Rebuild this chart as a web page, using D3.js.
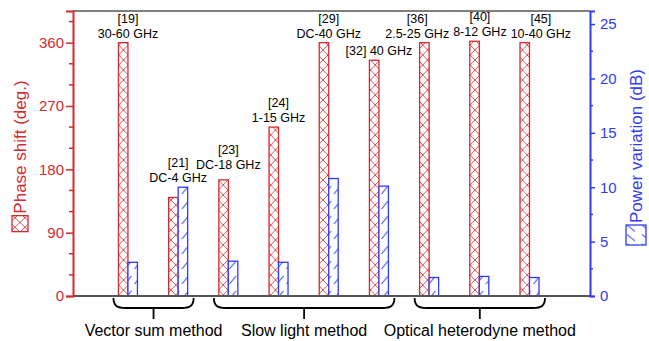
<html>

<head>
    <style>
        body { margin: 0; background: white; }
        text { font-family: "Liberation Sans", Arial, sans-serif; }
    </style>
</head>

<body>
    <svg id="chart"></svg>
</body>
<script src="https://cdn.jsdelivr.net/npm/d3@7"></script>
<script>
    let width = 649,
        height = 341;

    // data
    let refs = ["[19]", "[21]", "[23]", "[24]", "[29]", "[32]", "[36]", "[40]", "[45]"]
    let freqs = ["30-60 GHz", "DC-4 GHz", "DC-18 GHz", "1-15 GHz", "DC-40 GHz", "40 GHz", "2.5-25 GHz", "8-12 GHz", "10-40 GHz"]
    let phase = [360, 140, 165, 240, 360, 335, 360, 362, 360]
    let power = [3.1, 10.0, 3.2, 3.1, 10.8, 10.1, 1.7, 1.8, 1.7]
    let methodNames = ["Vector sum method", "Slow light method", "Optical heterodyne method"]
    let methodFirst = [0, 2, 6]
    let methodLast = [1, 5, 8]
    let phaseTicks = [0, 90, 180, 270, 360]
    let powerTicks = [0, 5, 10, 15, 20, 25]

    let red = "#d42a2e",
        blue = "#2f3cf5"

    let margin = { top: 11, left: 73, right: 59, bottom: 45 }
    let x0 = margin.left, x1 = width - margin.right
    let yBase = height - margin.bottom

    let svg = d3.select("#chart").attr("width", width).attr("height", height)

    let x = d3.scalePoint().domain(d3.range(refs.length)).range([x0, x1]).padding(1.15).align(0.476)
    let yL = d3.scaleLinear().domain([0, 405]).range([yBase, margin.top])
    let yR = d3.scaleLinear().domain([0, 26.2]).range([yBase, margin.top])
    let bw = 9.5

    // patterns
    let defs = svg.append("defs")
    let pr = defs.append("pattern").attr("id", "hatchRed").attr("patternUnits", "userSpaceOnUse")
        .attr("width", bw).attr("height", 10)
    pr.append("rect").attr("width", bw).attr("height", 10).attr("fill", "white")
    pr.append("path").attr("d", `M0,0 Q${bw / 2},5 ${bw},10 M${bw},0 Q${bw / 2},5 0,10`)
        .attr("stroke", red).attr("stroke-width", 0.8).attr("fill", "none")
    let pb = defs.append("pattern").attr("id", "hatchBlue").attr("patternUnits", "userSpaceOnUse")
        .attr("width", bw).attr("height", 15)
    pb.append("rect").attr("width", bw).attr("height", 15).attr("fill", "white")
    pb.append("path").attr("d", `M1.5,14 L${bw - 1.5},6`)
        .attr("stroke", blue).attr("stroke-width", 1).attr("fill", "none")

    // top frame line
    svg.append("line").attr("x1", x0).attr("x2", x1).attr("y1", margin.top).attr("y2", margin.top)
        .attr("stroke", "black").attr("stroke-width", 1.2)

    // bars
    let groups = svg.append("g").selectAll("g").data(refs).enter().append("g")
    groups.append("rect")
        .attr("x", (d, i) => x(i) - bw)
        .attr("y", (d, i) => yL(phase[i]))
        .attr("width", bw)
        .attr("height", (d, i) => yBase - yL(phase[i]))
        .attr("fill", "url(#hatchRed)").attr("stroke", red).attr("stroke-width", 1.3)
    groups.append("rect")
        .attr("x", (d, i) => x(i))
        .attr("y", (d, i) => yR(power[i]))
        .attr("width", bw)
        .attr("height", (d, i) => yBase - yR(power[i]))
        .attr("fill", "url(#hatchBlue)").attr("stroke", blue).attr("stroke-width", 1.3)

    // bar labels
    let labels = []
    groups.each(function (d, i) {
        let top = Math.min(yL(phase[i]), yR(power[i]))
        let g = d3.select(this).append("g")
        let lines = freqs[i] == "40 GHz" ? [d + " " + freqs[i]] : [d, freqs[i]]
        let info = lines.map((s, k) => {
            let base = top - 5 - 15 * (lines.length - 1 - k)
            let t = g.append("text").attr("y", base).attr("text-anchor", "middle").attr("font-size", 12.5).text(s)
            return { base: base, w: t.node().getComputedTextLength() }
        })
        labels.push({ g: g, cx: x(i), dy: 0, lines: info })
    })

    function boxes(l) {
        return l.lines.map(o => ({ x0: l.cx - o.w / 2, x1: l.cx + o.w / 2, y0: o.base + l.dy - 10, y1: o.base + l.dy + 3 }))
    }
    function overlap(a, b, gap) {
        let worst = 0
        boxes(a).forEach(p => boxes(b).forEach(q => {
            if (p.y1 < q.y0 || q.y1 < p.y0) return
            let o = Math.min(p.x1 + gap - q.x0, q.x1 + gap - p.x0)
            if (o > worst) worst = o
        }))
        return worst
    }
    // lift a label a little if it hits the previous one
    labels.forEach((l, i) => {
        if (i == 0) return
        for (let r = 0; r <= 12; r++) {
            l.dy = -r
            if (boxes(l)[0].y0 < margin.top + 3) { l.dy = 0; break }
            if (overlap(labels[i - 1], l, 4) <= 0) break
            if (r == 12) l.dy = 0
        }
    })
    // then push apart sideways what still collides
    for (let it = 0; it < 20; it++) {
        for (let i = 0; i < labels.length - 1; i++) {
            let o = overlap(labels[i], labels[i + 1], 4)
            if (o > 0) { labels[i].cx -= o / 2; labels[i + 1].cx += o / 2 }
        }
    }
    labels.forEach(l => l.g.attr("transform", `translate(${l.cx},${l.dy})`))

    // baseline
    svg.append("line").attr("x1", x0).attr("x2", x1).attr("y1", yBase).attr("y2", yBase)
        .attr("stroke", "#555").attr("stroke-width", 2)

    // left axis
    let left = svg.append("g").attr("transform", `translate(${x0},0)`)
        .call(d3.axisLeft(yL).tickValues(phaseTicks).tickSize(7).tickPadding(2))
    left.select(".domain").attr("stroke", red).attr("stroke-width", 2)
    left.selectAll(".tick line").attr("stroke", red).attr("stroke-width", 1.5)
    left.selectAll("text").attr("fill", red).attr("font-size", 15).attr("font-family", "Liberation Sans, Arial, sans-serif")
    left.append("g").selectAll("line").data(d3.range(30, 405, 30).filter(v => v % 90 != 0)).enter()
        .append("line").attr("x1", -4).attr("x2", 0).attr("y1", d => yL(d)).attr("y2", d => yL(d))
        .attr("stroke", red).attr("stroke-width", 1.5)

    // right axis
    let right = svg.append("g").attr("transform", `translate(${x1},0)`)
        .call(d3.axisRight(yR).tickValues(powerTicks).tickSize(5).tickPadding(5))
    right.select(".domain").attr("stroke", blue).attr("stroke-width", 2)
    right.selectAll(".tick line").attr("stroke", blue).attr("stroke-width", 1.5)
    right.selectAll("text").attr("fill", blue).attr("font-size", 15).attr("font-family", "Liberation Sans, Arial, sans-serif")
    right.append("g").selectAll("line").data(d3.range(2.5, 26, 5)).enter()
        .append("line").attr("x1", 0).attr("x2", 3).attr("y1", d => yR(d)).attr("y2", d => yR(d))
        .attr("stroke", blue).attr("stroke-width", 1.5)

    // axis titles with legend icons
    function axisTitle(cx, cy, label, color, fillId, icon) {
        let g = svg.append("g").attr("transform", `translate(${cx},${cy}) rotate(-90)`)
        let t = g.append("text").attr("font-size", 17).attr("fill", color).attr("dy", "0.35em").text(label)
        let len = t.node().getComputedTextLength()
        let total = icon + 2 + len
        g.append("rect").attr("x", -total / 2).attr("y", -icon / 2).attr("width", icon).attr("height", icon)
            .attr("fill", `url(#${fillId})`).attr("stroke", color).attr("stroke-width", 1.3)
        t.attr("x", -total / 2 + icon + 2)
    }
    axisTitle(20, 156, "Phase shift (deg.)", red, "hatchRed", 16)
    axisTitle(636, 157, "Power variation (dB)", blue, "hatchBlue", 20)

    // method braces
    let braces = svg.append("g")
    methodNames.forEach((name, k) => {
        let a = x(methodFirst[k]) - bw - 5,
            b = x(methodLast[k]) + bw + 6,
            c = (a + b) / 2,
            y0 = yBase + 2, y1 = yBase + 12
        braces.append("path")
            .attr("d", `M${a},${y0} C${a},${y1 - 2} ${a + 4},${y1} ${a + 12},${y1} L${b - 12},${y1} C${b - 4},${y1} ${b},${y1 - 2} ${b},${y0} M${c},${y1} L${c},${y1 + 11}`)
            .attr("fill", "none").attr("stroke", "black").attr("stroke-width", 1.8)
        braces.append("text").attr("x", c).attr("y", 336).attr("text-anchor", "middle")
            .attr("font-size", 16).text(name)
    })
</script>

</html>
